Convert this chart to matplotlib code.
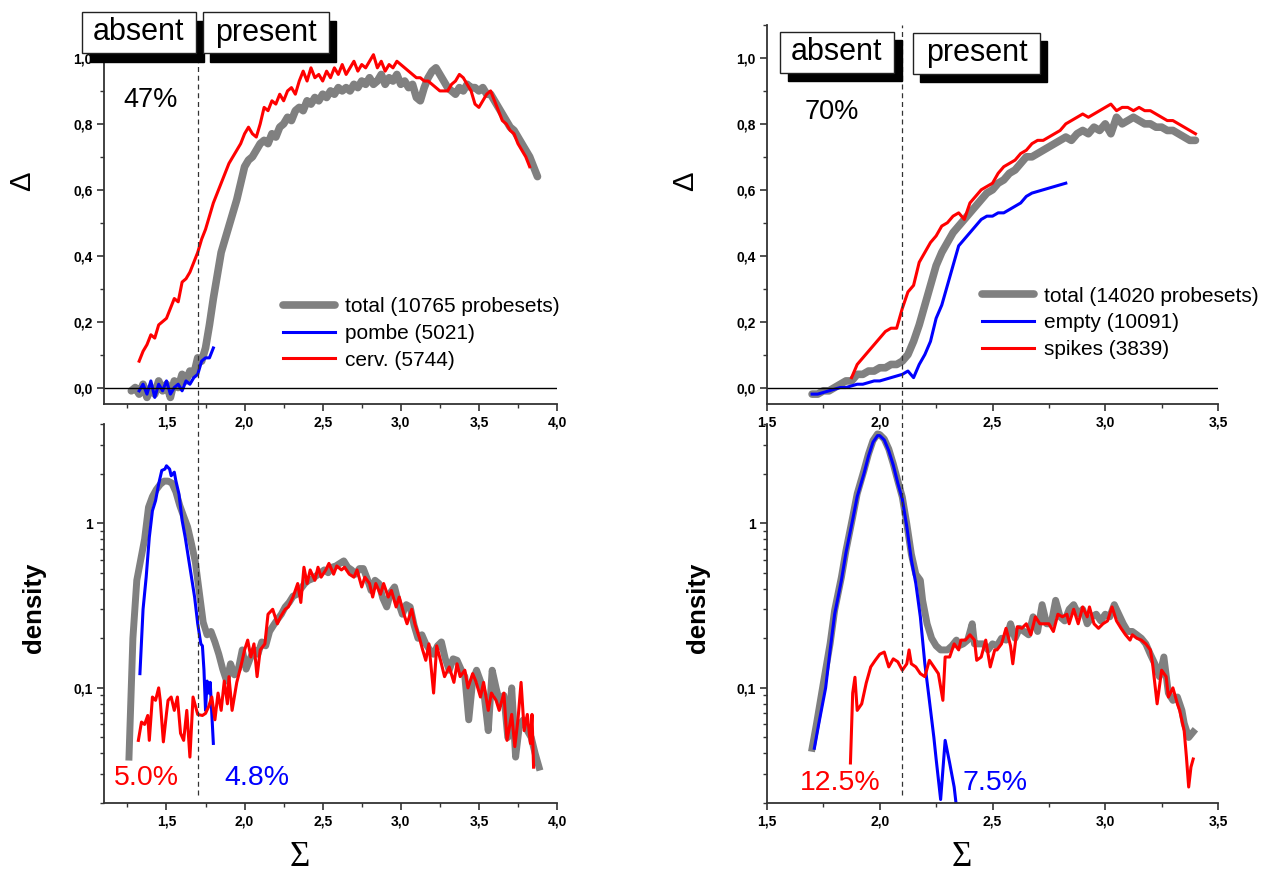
import numpy as np
import matplotlib.pyplot as plt
from matplotlib.patches import Rectangle
from matplotlib.ticker import MultipleLocator, FixedLocator, NullFormatter

plt.rcParams['font.family'] = ['Liberation Sans', 'DejaVu Sans']

# ---------------- data ----------------
# top left: Delta vs Sigma (grid step 0.025)
tl_total_x0 = 1.275
tl_total = [-0.01, 0.00, -0.02, 0.01, -0.03, 0.00, -0.02, 0.02, -0.01, 0.01,
            -0.03, 0.02, 0.00, 0.04, 0.02, 0.05, 0.04, 0.09, 0.08, 0.12,
            0.19, 0.27, 0.34, 0.41, 0.45, 0.49, 0.53, 0.57, 0.62, 0.67,
            0.69, 0.70, 0.72, 0.74, 0.75, 0.74, 0.77, 0.76, 0.79, 0.80,
            0.82, 0.81, 0.84, 0.85, 0.84, 0.87, 0.86, 0.88, 0.87, 0.89,
            0.88, 0.90, 0.89, 0.91, 0.90, 0.91, 0.90, 0.92, 0.91, 0.93,
            0.92, 0.94, 0.92, 0.93, 0.95, 0.92, 0.94, 0.93, 0.95, 0.92,
            0.93, 0.91, 0.92, 0.88, 0.87, 0.91, 0.94, 0.96, 0.97, 0.95,
            0.93, 0.91, 0.90, 0.89, 0.91, 0.90, 0.92, 0.91, 0.91, 0.90,
            0.91, 0.89, 0.89, 0.87, 0.85, 0.83, 0.81, 0.79, 0.78, 0.76,
            0.74, 0.72, 0.70, 0.67, 0.64]
tl_pombe_x0 = 1.325
tl_pombe = [-0.01, 0.01, -0.02, 0.02, -0.03, 0.01, -0.01, 0.02, -0.02, 0.00,
            0.01, -0.01, 0.02, 0.01, 0.03, 0.04, 0.08, 0.09, 0.09, 0.12]
tl_cerv_x0 = 1.325
tl_cerv = [0.08, 0.11, 0.13, 0.16, 0.15, 0.19, 0.20, 0.21, 0.24, 0.27,
           0.26, 0.32, 0.33, 0.35, 0.38, 0.41, 0.45, 0.48, 0.52, 0.56,
           0.59, 0.62, 0.65, 0.68, 0.70, 0.72, 0.74, 0.77, 0.79, 0.77,
           0.76, 0.80, 0.85, 0.84, 0.87, 0.86, 0.89, 0.87, 0.90, 0.91,
           0.89, 0.93, 0.96, 0.93, 0.97, 0.94, 0.95, 0.93, 0.96, 0.94,
           0.97, 0.95, 0.98, 0.95, 0.97, 0.99, 0.96, 0.98, 0.97, 0.99,
           1.01, 0.97, 0.99, 0.96, 0.98, 0.97, 0.99, 0.98, 0.97, 0.96,
           0.95, 0.94, 0.94, 0.93, 0.93, 0.92, 0.91, 0.90, 0.90, 0.90,
           0.92, 0.93, 0.95, 0.94, 0.92, 0.90, 0.86, 0.85, 0.87, 0.89,
           0.90, 0.87, 0.84, 0.81, 0.80, 0.78, 0.77, 0.74, 0.72, 0.70,
           0.67]

# top right
tr_total_x0 = 1.70
tr_total = [-0.02, -0.02, -0.01, -0.01, 0.00, 0.01, 0.02, 0.02, 0.04, 0.04,
            0.05, 0.05, 0.06, 0.06, 0.07, 0.07, 0.08, 0.10, 0.14, 0.19,
            0.25, 0.31, 0.37, 0.41, 0.44, 0.47, 0.49, 0.51, 0.53, 0.55,
            0.57, 0.59, 0.60, 0.62, 0.63, 0.65, 0.66, 0.68, 0.70, 0.70,
            0.71, 0.72, 0.73, 0.74, 0.75, 0.76, 0.75, 0.77, 0.78, 0.77,
            0.79, 0.78, 0.80, 0.77, 0.82, 0.80, 0.81, 0.82, 0.81, 0.80,
            0.80, 0.79, 0.79, 0.78, 0.78, 0.77, 0.76, 0.75, 0.75]
tr_empty_x0 = 1.70
tr_empty = [-0.02, -0.02, -0.015, -0.01, -0.005, 0.00, 0.00, 0.005, 0.01, 0.01,
            0.015, 0.02, 0.02, 0.025, 0.03, 0.035, 0.04, 0.05, 0.03, 0.07,
            0.10, 0.14, 0.21, 0.25, 0.31, 0.37, 0.43, 0.45, 0.47, 0.49,
            0.51, 0.52, 0.52, 0.53, 0.53, 0.54, 0.55, 0.56, 0.58, 0.59,
            0.595, 0.60, 0.605, 0.61, 0.615, 0.62]
tr_spikes_x0 = 1.875
tr_spikes = [0.03, 0.07, 0.09, 0.11, 0.13, 0.15, 0.17, 0.18, 0.18, 0.24,
             0.29, 0.31, 0.38, 0.41, 0.44, 0.46, 0.49, 0.50, 0.52, 0.53,
             0.51, 0.56, 0.58, 0.60, 0.61, 0.62, 0.65, 0.67, 0.68, 0.69,
             0.71, 0.72, 0.74, 0.75, 0.75, 0.76, 0.77, 0.78, 0.80, 0.81,
             0.82, 0.83, 0.82, 0.83, 0.84, 0.85, 0.86, 0.84, 0.85, 0.85,
             0.84, 0.85, 0.84, 0.84, 0.83, 0.82, 0.81, 0.81, 0.80, 0.79,
             0.78, 0.77]

# bottom left: density (log)
bl_total_x0 = 1.26
bl_total = [0.038, 0.20, 0.45, 0.60, 0.80, 1.25, 1.45, 1.60, 1.72, 1.80,
            1.80, 1.75, 1.55, 1.28, 1.10, 0.95, 0.75, 0.58, 0.38, 0.25,
            0.21, 0.22, 0.19, 0.16, 0.13, 0.11, 0.14, 0.12, 0.13, 0.17,
            0.13, 0.15, 0.17, 0.16, 0.19, 0.18, 0.22, 0.24, 0.26, 0.28,
            0.31, 0.33, 0.36, 0.37, 0.40, 0.43, 0.45, 0.46, 0.48, 0.50,
            0.52, 0.50, 0.54, 0.55, 0.57, 0.59, 0.54, 0.52, 0.49, 0.53,
            0.53, 0.46, 0.39, 0.45, 0.43, 0.35, 0.31, 0.38, 0.41, 0.33,
            0.28, 0.32, 0.31, 0.24, 0.20, 0.21, 0.185, 0.17, 0.16, 0.18,
            0.19, 0.15, 0.128, 0.15, 0.147, 0.13, 0.117, 0.064, 0.11, 0.128,
            0.11, 0.088, 0.055, 0.128, 0.10, 0.08, 0.09, 0.05, 0.10, 0.038,
            0.06, 0.064, 0.055, 0.05, 0.04, 0.033]
bl_pombe_x = [1.33, 1.35, 1.37, 1.39, 1.41, 1.43, 1.45, 1.47, 1.49, 1.50,
              1.52, 1.53, 1.55, 1.56, 1.58, 1.60, 1.62, 1.64, 1.66, 1.68,
              1.70, 1.72, 1.73, 1.74, 1.75, 1.76, 1.77, 1.78, 1.79, 1.80]
bl_pombe = [0.122, 0.30, 0.47, 0.82, 1.19, 1.37, 1.73, 2.09, 2.13, 2.23,
            2.13, 1.94, 2.04, 1.81, 1.50, 1.04, 0.82, 0.62, 0.47, 0.356,
            0.245, 0.185, 0.18, 0.128, 0.073, 0.11, 0.093, 0.108, 0.07, 0.046]
bl_cerv_x = [1.32, 1.34, 1.36, 1.38, 1.39, 1.41, 1.43, 1.45, 1.46, 1.48,
             1.50, 1.51, 1.53, 1.55, 1.57, 1.59, 1.61, 1.63, 1.65, 1.67,
             1.70, 1.73, 1.75, 1.77, 1.79, 1.81, 1.83, 1.85, 1.87, 1.89,
             1.90, 1.92, 1.95, 1.98, 2.00, 2.02, 2.04, 2.06, 2.08, 2.10,
             2.13, 2.15, 2.18, 2.21, 2.23, 2.26, 2.28, 2.31, 2.34, 2.36,
             2.38, 2.40, 2.42, 2.45, 2.47, 2.49, 2.52, 2.54, 2.57, 2.59,
             2.62, 2.64, 2.67, 2.70, 2.72, 2.75, 2.77, 2.80, 2.82, 2.84,
             2.87, 2.89, 2.92, 2.94, 2.97, 2.99, 3.02, 3.04, 3.07, 3.09,
             3.12, 3.14, 3.16, 3.18, 3.21, 3.23, 3.26, 3.28, 3.31, 3.34,
             3.36, 3.38, 3.41, 3.43, 3.46, 3.48, 3.51, 3.53, 3.56, 3.58,
             3.61, 3.63, 3.66, 3.68, 3.71, 3.73, 3.75, 3.77, 3.79, 3.81,
             3.83, 3.84, 3.85]
bl_cerv = [0.048, 0.062, 0.060, 0.068, 0.048, 0.088, 0.084, 0.100, 0.084, 0.047,
           0.070, 0.084, 0.088, 0.073, 0.088, 0.053, 0.048, 0.073, 0.038, 0.088,
           0.069, 0.068, 0.070, 0.077, 0.088, 0.064, 0.093, 0.073, 0.110, 0.080,
           0.117, 0.073, 0.108, 0.140, 0.170, 0.195, 0.154, 0.185, 0.117, 0.170,
           0.185, 0.280, 0.300, 0.245, 0.270, 0.300, 0.310, 0.356, 0.430, 0.330,
           0.540, 0.430, 0.520, 0.450, 0.540, 0.470, 0.520, 0.570, 0.490, 0.550,
           0.520, 0.540, 0.490, 0.470, 0.520, 0.410, 0.470, 0.430, 0.356, 0.430,
           0.370, 0.430, 0.356, 0.390, 0.310, 0.356, 0.280, 0.245, 0.300, 0.245,
           0.200, 0.170, 0.147, 0.185, 0.093, 0.180, 0.140, 0.117, 0.134, 0.108,
           0.140, 0.117, 0.128, 0.100, 0.122, 0.110, 0.088, 0.108, 0.073, 0.093,
           0.084, 0.073, 0.093, 0.048, 0.069, 0.044, 0.064, 0.108, 0.055, 0.069,
           0.046, 0.069, 0.033]

# bottom right
br_total_x = [1.70, 1.72, 1.75, 1.78, 1.80, 1.83, 1.85, 1.88, 1.90, 1.93,
              1.95, 1.97, 1.99, 2.00, 2.02, 2.04, 2.06, 2.08, 2.10, 2.12,
              2.14, 2.16, 2.18, 2.19, 2.21, 2.23, 2.25, 2.27, 2.30, 2.32,
              2.34, 2.35, 2.37, 2.39, 2.41, 2.42, 2.44, 2.46, 2.48, 2.50,
              2.52, 2.54, 2.56, 2.58, 2.60, 2.62, 2.64, 2.66, 2.68, 2.70,
              2.72, 2.74, 2.76, 2.78, 2.80, 2.82, 2.84, 2.86, 2.88, 2.90,
              2.92, 2.94, 2.96, 2.98, 3.00, 3.02, 3.04, 3.06, 3.08, 3.10,
              3.12, 3.14, 3.16, 3.18, 3.20, 3.22, 3.24, 3.26, 3.28, 3.30,
              3.32, 3.34, 3.35, 3.37, 3.39]
br_total = [0.043, 0.061, 0.107, 0.186, 0.296, 0.47, 0.68, 1.09, 1.51, 2.09,
            2.63, 3.17, 3.48, 3.45, 3.24, 2.82, 2.29, 1.81, 1.44, 0.99,
            0.65, 0.49, 0.45, 0.34, 0.245, 0.20, 0.18, 0.17, 0.17, 0.18,
            0.195, 0.18, 0.185, 0.195, 0.245, 0.185, 0.185, 0.185, 0.17, 0.185,
            0.18, 0.20, 0.195, 0.245, 0.20, 0.23, 0.22, 0.21, 0.27, 0.22,
            0.32, 0.245, 0.245, 0.34, 0.27, 0.255, 0.30, 0.32, 0.28, 0.30,
            0.245, 0.27, 0.28, 0.255, 0.28, 0.27, 0.32, 0.28, 0.245, 0.22,
            0.22, 0.21, 0.20, 0.185, 0.16, 0.14, 0.117, 0.154, 0.093, 0.084,
            0.088, 0.073, 0.061, 0.050, 0.054]
br_empty_x = [1.71, 1.73, 1.76, 1.78, 1.80, 1.83, 1.85, 1.88, 1.90, 1.93,
              1.95, 1.97, 1.99, 2.00, 2.02, 2.04, 2.06, 2.08, 2.10, 2.12,
              2.14, 2.16, 2.18, 2.20, 2.22, 2.24, 2.25, 2.27, 2.29, 2.31,
              2.33, 2.34]
br_empty = [0.043, 0.061, 0.10, 0.17, 0.28, 0.45, 0.66, 1.05, 1.45, 2.0,
            2.55, 3.1, 3.4, 3.4, 3.2, 2.75, 2.25, 1.75, 1.40, 0.95,
            0.60, 0.43, 0.27, 0.14, 0.084, 0.05, 0.037, 0.021, 0.048, 0.035,
            0.025, 0.019]
br_spikes_x = [1.87, 1.88, 1.89, 1.90, 1.92, 1.94, 1.96, 1.98, 2.00, 2.02,
               2.04, 2.06, 2.08, 2.10, 2.12, 2.13, 2.14, 2.16, 2.18, 2.20,
               2.22, 2.24, 2.26, 2.28, 2.29, 2.31, 2.33, 2.35, 2.36, 2.38,
               2.40, 2.42, 2.43, 2.45, 2.47, 2.49, 2.51, 2.52, 2.54, 2.56,
               2.58, 2.59, 2.61, 2.63, 2.65, 2.67, 2.69, 2.71, 2.73, 2.75,
               2.77, 2.79, 2.81, 2.83, 2.84, 2.86, 2.88, 2.90, 2.92, 2.93,
               2.95, 2.97, 2.99, 3.01, 3.03, 3.05, 3.07, 3.09, 3.11, 3.12,
               3.14, 3.16, 3.18, 3.20, 3.21, 3.23, 3.25, 3.27, 3.28, 3.30,
               3.32, 3.33, 3.35, 3.36, 3.37, 3.38, 3.39]
br_spikes = [0.035, 0.093, 0.116, 0.073, 0.080, 0.107, 0.134, 0.147, 0.160, 0.165,
             0.134, 0.150, 0.144, 0.128, 0.140, 0.170, 0.140, 0.134, 0.122, 0.117,
             0.147, 0.134, 0.122, 0.084, 0.154, 0.154, 0.185, 0.170, 0.195, 0.195,
             0.210, 0.195, 0.147, 0.154, 0.195, 0.134, 0.170, 0.170, 0.185, 0.230,
             0.180, 0.140, 0.235, 0.230, 0.245, 0.210, 0.270, 0.245, 0.245, 0.245,
             0.220, 0.280, 0.270, 0.280, 0.245, 0.300, 0.245, 0.310, 0.270, 0.310,
             0.245, 0.230, 0.245, 0.255, 0.310, 0.255, 0.230, 0.210, 0.195, 0.210,
             0.200, 0.195, 0.185, 0.170, 0.140, 0.080, 0.128, 0.117, 0.088, 0.100,
             0.080, 0.073, 0.055, 0.038, 0.025, 0.033, 0.037]

xticks_left = [1.5, 2.0, 2.5, 3.0, 3.5, 4.0]
xticks_right = [1.5, 2.0, 2.5, 3.0, 3.5]
yticks_delta = [0.0, 0.2, 0.4, 0.6, 0.8, 1.0]

GRAY = '#808080'
BLUE = '#0000ff'
RED = '#ff0000'


def comma(v):
    return f"{v:.1f}".replace('.', ',')


def grid(x0, y, step=0.025):
    return x0 + step * np.arange(len(y))


# ---------------- figure ----------------
W, H = 1266, 877
fig = plt.figure(figsize=(W / 100, H / 100), dpi=100)


def px_axes(l, t, r, b):
    a = fig.add_axes([l / W, 1 - b / H, (r - l) / W, (b - t) / H])
    a.set_facecolor('none')
    return a


ax_tl = px_axes(104, 25, 557, 404)
ax_tr = px_axes(767, 25, 1218, 404)
ax_bl = px_axes(104, 424, 557, 803)
ax_br = px_axes(767, 424, 1218, 803)


def style(ax):
    for s in ['top', 'right']:
        ax.spines[s].set_visible(False)
    for s in ['left', 'bottom']:
        ax.spines[s].set_linewidth(1.3)
        ax.spines[s].set_color('#333333')
    ax.tick_params(which='major', direction='out', length=5, width=1.2, color='#333333', pad=3)
    ax.tick_params(which='minor', direction='out', length=3, width=1.0, color='#333333')


leg_kw = dict(loc='upper left', frameon=False, fontsize=15, handlelength=2.5,
              handletextpad=0.48, labelspacing=0.37, borderpad=0, borderaxespad=0)

# top left
ax = ax_tl
ax.plot(grid(tl_total_x0, tl_total), tl_total, color=GRAY, lw=5.5,
        solid_joinstyle='round', solid_capstyle='round', label='total (10765 probesets)')
ax.plot(grid(tl_pombe_x0, tl_pombe), tl_pombe, color=BLUE, lw=2.2, label='pombe (5021)')
ax.plot(grid(tl_cerv_x0, tl_cerv), tl_cerv, color=RED, lw=2.2, label='cerv. (5744)')
ax.axhline(0, color='black', lw=1)
ax.axvline(1.7, color='#333333', lw=0.9, ls=(0, (4, 3)))
ax.set_xlim(1.1, 4.0)
ax.set_ylim(-0.05, 1.1)
ax.text(1.395, 0.873, '47%', fontsize=19.5, ha='center', va='center')
ax.legend(bbox_to_anchor=(0.395, 0.282), **leg_kw)

# top right
ax = ax_tr
ax.plot(grid(tr_total_x0, tr_total), tr_total, color=GRAY, lw=5.5,
        solid_joinstyle='round', solid_capstyle='round', label='total (14020 probesets)')
ax.plot(grid(tr_empty_x0, tr_empty), tr_empty, color=BLUE, lw=2.2, label='empty (10091)')
ax.plot(grid(tr_spikes_x0, tr_spikes), tr_spikes, color=RED, lw=2.2, label='spikes (3839)')
ax.axhline(0, color='black', lw=1)
ax.axvline(2.1, color='#333333', lw=0.9, ls=(0, (4, 3)))
ax.set_xlim(1.5, 3.5)
ax.set_ylim(-0.05, 1.1)
ax.text(1.788, 0.836, '70%', fontsize=19.5, ha='center', va='center')
ax.legend(bbox_to_anchor=(0.477, 0.31), **leg_kw)

for ax, xt, mx in [(ax_tl, xticks_left, 1.25), (ax_tr, xticks_right, 1.75)]:
    style(ax)
    ax.set_xticks(xt, [comma(v) for v in xt], fontsize=10, fontweight='bold')
    ax.xaxis.set_minor_locator(FixedLocator(np.arange(mx, xt[-1], 0.5)))
    ax.set_yticks(yticks_delta, [comma(v) for v in yticks_delta], fontsize=10, fontweight='bold')
    ax.yaxis.set_minor_locator(MultipleLocator(0.1))

# bottom left
ax = ax_bl
ax.plot(grid(bl_total_x0, bl_total), bl_total, color=GRAY, lw=5,
        solid_joinstyle='round')
ax.plot(bl_pombe_x, bl_pombe, color=BLUE, lw=2.2)
ax.plot(bl_cerv_x, bl_cerv, color=RED, lw=2.2)
ax.axvline(1.7, ymin=0.02, ymax=1.055, clip_on=False, color='#333333', lw=0.9, ls=(0, (4, 3)))
ax.set_xlim(1.1, 4.0)
ax.text(1.369, 0.0285, '5.0%', color=RED, fontsize=20.5, ha='center', va='center')
ax.text(2.081, 0.0285, '4.8%', color=BLUE, fontsize=20.5, ha='center', va='center')

# bottom right
ax = ax_br
ax.plot(br_total_x, br_total, color=GRAY, lw=5, solid_joinstyle='round')
ax.plot(br_empty_x, br_empty, color=BLUE, lw=2.2)
ax.plot(br_spikes_x, br_spikes, color=RED, lw=2.2)
ax.axvline(2.1, ymin=0.02, ymax=1.055, clip_on=False, color='#333333', lw=0.9, ls=(0, (4, 3)))
ax.set_xlim(1.5, 3.5)
ax.text(1.823, 0.0266, '12.5%', color=RED, fontsize=20.5, ha='center', va='center')
ax.text(2.513, 0.0266, '7.5%', color=BLUE, fontsize=20.5, ha='center', va='center')

for ax, xt, mx in [(ax_bl, xticks_left, 1.25), (ax_br, xticks_right, 1.75)]:
    ax.set_yscale('log')
    ax.set_ylim(0.02, 4.0)
    style(ax)
    ax.set_xticks(xt, [comma(v) for v in xt], fontsize=10, fontweight='bold')
    ax.xaxis.set_minor_locator(FixedLocator(np.arange(mx, xt[-1], 0.5)))
    ax.set_yticks([0.1, 1], ['0,1', '1'], fontsize=10, fontweight='bold')
    ax.yaxis.set_minor_locator(FixedLocator([0.02, 0.03, 0.04, 0.05, 0.06, 0.07, 0.08, 0.09,
                                             0.2, 0.3, 0.4, 0.5, 0.6, 0.7, 0.8, 0.9,
                                             2, 3, 4]))
    ax.yaxis.set_minor_formatter(NullFormatter())

# axis labels
for xc in [22, 685]:
    fig.text(xc / W, 1 - 181 / H, 'Δ', rotation=90, fontsize=21, ha='center', va='center')
for xc in [34, 698]:
    fig.text(xc / W, 1 - 608 / H, 'density', rotation=90, fontsize=18.5, fontweight='bold',
             ha='center', va='center')
for xc in [300, 962]:
    fig.text(xc / W, 1 - 858 / H, 'Σ', fontsize=25, family='Liberation Serif',
             ha='center', va='center')


# absent / present boxes with shadow
def box(l, t, r, b, label, dx=8, dy=9):
    sh = Rectangle(((l + dx) / W, 1 - (b + dy) / H), (r - l) / W, (b - t) / H,
                   transform=fig.transFigure, facecolor='black', edgecolor='black', zorder=10)
    fr = Rectangle((l / W, 1 - b / H), (r - l) / W, (b - t) / H,
                   transform=fig.transFigure, facecolor='white', edgecolor='#222222',
                   lw=1, zorder=11)
    fig.add_artist(sh)
    fig.add_artist(fr)
    fig.text((l + r) / 2 / W, 1 - (t + b) / 2 / H, label, fontsize=22,
             ha='center', va='center', zorder=12)


box(82, 12, 196, 53, 'absent')
box(203, 12, 329, 53, 'present', dx=7)
box(780, 32, 894, 73, 'absent', dy=8)
box(913, 33, 1040, 74, 'present', dx=7, dy=8)

fig.savefig('out.png', dpi=100)
